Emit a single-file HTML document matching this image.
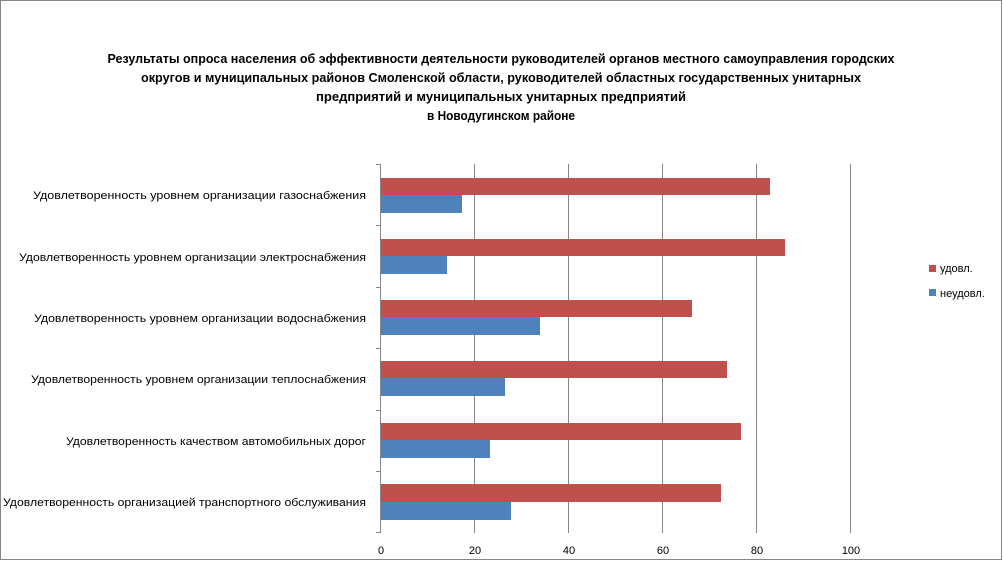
<!DOCTYPE html>
<html><head><meta charset="utf-8"><style>body{margin:0;background:#fff}svg{display:block}</style></head>
<body>
<svg width="1003" height="561" xmlns="http://www.w3.org/2000/svg" font-family="Liberation Sans, sans-serif">
<rect x="0.5" y="0.5" width="1001" height="559" fill="#fff" stroke="#868686"/>
<g font-weight="bold" font-size="12.5" text-anchor="middle" fill="#000">
<text x="501" y="63" textLength="787" lengthAdjust="spacingAndGlyphs">Результаты опроса населения об эффективности деятельности руководителей органов местного самоуправления городских</text>
<text x="501" y="82" textLength="720" lengthAdjust="spacingAndGlyphs">округов и муниципальных районов Смоленской области, руководителей областных государственных унитарных</text>
<text x="501" y="101" textLength="370" lengthAdjust="spacingAndGlyphs">предприятий и муниципальных унитарных предприятий</text>
<text x="501" y="120" textLength="148" lengthAdjust="spacingAndGlyphs">в Новодугинском районе</text>
</g>
<g stroke="#868686" stroke-width="1">
<line x1="474.5" y1="164" x2="474.5" y2="533"/>
<line x1="568.5" y1="164" x2="568.5" y2="533"/>
<line x1="662.5" y1="164" x2="662.5" y2="533"/>
<line x1="756.5" y1="164" x2="756.5" y2="533"/>
<line x1="850.5" y1="164" x2="850.5" y2="533"/>
</g>
<g fill="#c0504d">
<rect x="381" y="178" width="389" height="17"/>
<rect x="381" y="239" width="404" height="17"/>
<rect x="381" y="300" width="311" height="17"/>
<rect x="381" y="361" width="346" height="17"/>
<rect x="381" y="423" width="360" height="17"/>
<rect x="381" y="484" width="340" height="18"/>
</g>
<g fill="#4f81bd">
<rect x="381" y="195" width="81" height="18"/>
<rect x="381" y="256" width="66" height="18"/>
<rect x="381" y="317" width="159" height="18"/>
<rect x="381" y="378" width="124" height="18"/>
<rect x="381" y="440" width="109" height="18"/>
<rect x="381" y="502" width="130" height="18"/>
</g>
<g stroke="#868686">
<line x1="380.5" y1="164" x2="380.5" y2="533"/>
<line x1="376" y1="164.5" x2="381" y2="164.5"/>
<line x1="376" y1="225.5" x2="381" y2="225.5"/>
<line x1="376" y1="287.5" x2="381" y2="287.5"/>
<line x1="376" y1="348.5" x2="381" y2="348.5"/>
<line x1="376" y1="410.5" x2="381" y2="410.5"/>
<line x1="376" y1="471.5" x2="381" y2="471.5"/>
<line x1="376" y1="532.5" x2="381" y2="532.5"/>
</g>
<g font-size="11" text-anchor="end" fill="#000">
<text x="366" y="199" textLength="333" lengthAdjust="spacingAndGlyphs">Удовлетворенность  уровнем  организации газоснабжения</text>
<text x="366" y="261" textLength="347" lengthAdjust="spacingAndGlyphs">Удовлетворенность  уровнем организации электроснабжения</text>
<text x="366" y="322" textLength="332" lengthAdjust="spacingAndGlyphs">Удовлетворенность  уровнем  организации водоснабжения</text>
<text x="366" y="383" textLength="335" lengthAdjust="spacingAndGlyphs">Удовлетворенность  уровнем  организации теплоснабжения</text>
<text x="366" y="445" textLength="300" lengthAdjust="spacingAndGlyphs">Удовлетворенность  качеством  автомобильных дорог</text>
<text x="366" y="506" textLength="363" lengthAdjust="spacingAndGlyphs">Удовлетворенность  организацией транспортного обслуживания</text>
</g>
<g font-size="11" text-anchor="middle" fill="#000">
<text x="381" y="554">0</text><text x="475" y="554">20</text><text x="569" y="554">40</text><text x="663" y="554">60</text><text x="757" y="554">80</text><text x="851" y="554">100</text>
</g>
<rect x="929" y="265" width="7" height="7" fill="#c0504d"/>
<text x="940" y="272" font-size="11">удовл.</text>
<rect x="929" y="289" width="7" height="7" fill="#4f81bd"/>
<text x="940" y="297" font-size="11">неудовл.</text>
</svg>
</body></html>
